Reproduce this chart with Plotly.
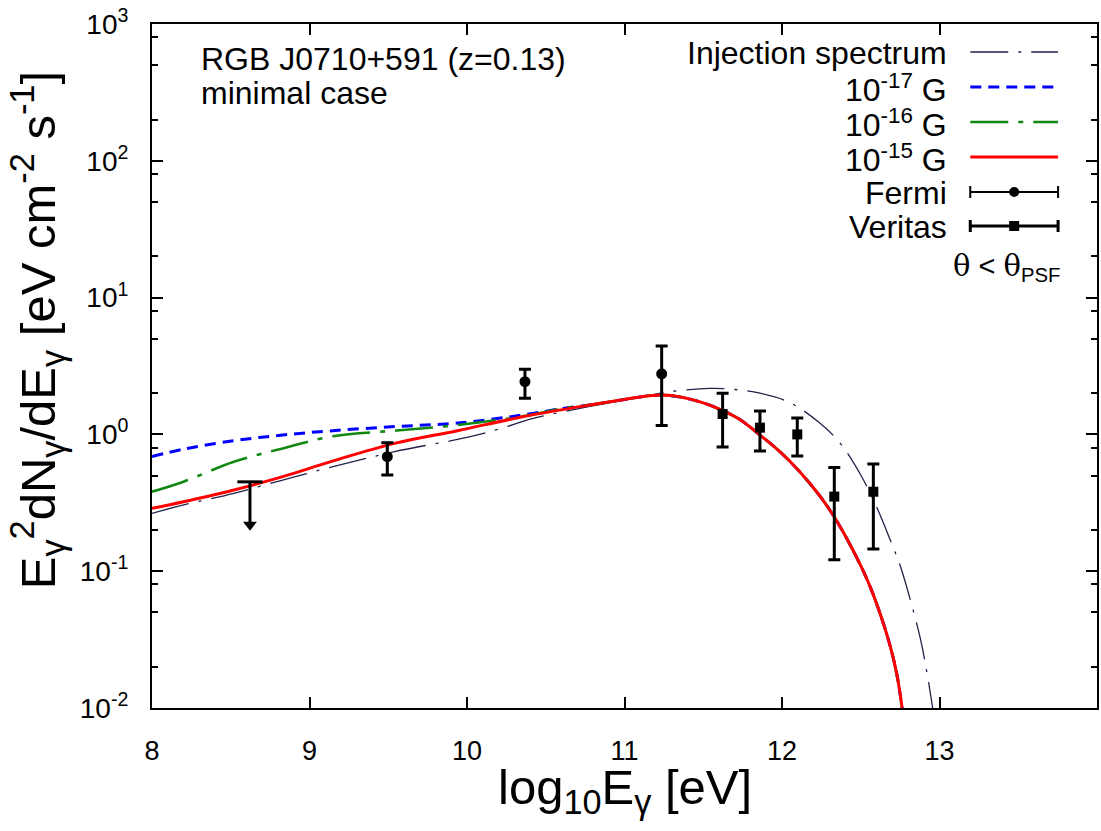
import plotly.graph_objects as go

# ---------------- data ----------------
# Injection spectrum
x_inj = [8.0, 8.2, 8.52, 8.83, 9.15, 9.54, 10.0, 10.21, 10.42, 10.78, 11.0, 11.16,
         11.3, 11.54, 11.7, 11.86, 12.05, 12.24, 12.37, 12.5, 12.6, 12.69, 12.75,
         12.81, 12.88, 12.92, 12.95, 13.0]
y_inj = [0.265, 0.305, 0.371, 0.464, 0.581, 0.748, 0.95, 1.10, 1.31, 1.60, 1.78, 1.93,
         2.06, 2.17, 2.13, 2.00, 1.71, 1.21, 0.86, 0.505, 0.296, 0.166, 0.110,
         0.0646, 0.0316, 0.0182, 0.0112, 0.0045]

# B = 1e-17 G
x_b17 = [8.0, 8.2, 8.52, 8.83, 9.15, 9.54, 9.94, 10.36, 10.61, 10.78, 11.0, 11.16,
         11.28, 11.48, 11.61, 11.73, 11.86, 11.99, 12.11, 12.24, 12.33, 12.43, 12.54,
         12.62, 12.69, 12.73, 12.75, 12.78]
y_b17 = [0.69, 0.78, 0.90, 0.99, 1.065, 1.14, 1.21, 1.39, 1.55, 1.64, 1.80, 1.92,
         1.93, 1.73, 1.52, 1.29, 0.99, 0.741, 0.537, 0.355, 0.251, 0.158, 0.0871,
         0.0501, 0.0275, 0.0174, 0.0126, 0.0071]

# B = 1e-16 G
x_b16 = [8.0, 8.2, 8.52, 8.83, 9.15, 9.54, 9.94, 10.36, 10.61, 10.78, 11.0, 11.16,
         11.28, 11.48, 11.61, 11.73, 11.86, 11.99, 12.11, 12.24, 12.33, 12.43, 12.54,
         12.62, 12.69, 12.73, 12.75, 12.78]
y_b16 = [0.381, 0.451, 0.631, 0.79, 0.97, 1.065, 1.17, 1.36, 1.55, 1.64, 1.80, 1.92,
         1.93, 1.73, 1.52, 1.29, 0.99, 0.741, 0.537, 0.355, 0.251, 0.158, 0.0871,
         0.0501, 0.0275, 0.0174, 0.0126, 0.0071]

# B = 1e-15 G
x_b15 = [8.0, 8.2, 8.52, 8.83, 9.15, 9.54, 9.94, 10.36, 10.78, 11.0, 11.16,
         11.28, 11.48, 11.61, 11.73, 11.86, 11.99, 12.11, 12.24, 12.33, 12.43, 12.54,
         12.62, 12.69, 12.73, 12.75, 12.78]
y_b15 = [0.288, 0.322, 0.392, 0.491, 0.64, 0.86, 1.065, 1.35, 1.64, 1.80, 1.92,
         1.93, 1.73, 1.52, 1.29, 0.99, 0.741, 0.537, 0.355, 0.251, 0.158, 0.0871,
         0.0501, 0.0275, 0.0174, 0.0126, 0.0071]

# Fermi data points
fermi_x = [9.494, 10.368, 11.236]
fermi_y = [0.687, 2.43, 2.77]
fermi_hi = [0.869, 2.99, 4.43]
fermi_lo = [0.505, 1.84, 1.16]

# Fermi upper limit (value and arrow tip)
ul_x = [8.622]
ul_y = [0.45]
ul_tip = [0.195]

# Veritas data points
ver_x = [11.623, 11.860, 12.097, 12.332, 12.580]
ver_y = [1.41, 1.12, 1.00, 0.351, 0.381]
ver_hi = [2.00, 1.48, 1.32, 0.574, 0.608]
ver_lo = [0.81, 0.757, 0.695, 0.121, 0.145]

x_ticks = [8, 9, 10, 11, 12, 13, 14]
y_exps = [-2, -1, 0, 1, 2, 3]

legend_labels = ["Injection spectrum", "10<sup>-17</sup> G", "10<sup>-16</sup> G",
                 "10<sup>-15</sup> G", "Fermi", "Veritas"]

# ---------------- styling ----------------
FONT = "Liberation Sans, Arial, Helvetica, sans-serif"
INJ_COLOR = "#22224a"
BLUE = "#0000ff"
GREEN = "#118811"
RED = "#ff0000"
INJ_DASH = "38px,10px,3px,10px"
BLUE_DASH = "11px,7px"
GREEN_DASH = "38px,10px,5px,10px"

# plot-area pixel geometry
L, R, T, B = 152, 1099, 24, 708
W, H = R - L, B - T


def px(x):
    return (x - L) / W


def py(y):
    return (B - y) / H


fig = go.Figure()

fig.add_trace(go.Scatter(x=x_inj, y=y_inj, mode="lines", line_shape="spline",
                         line=dict(color=INJ_COLOR, width=1.3, dash=INJ_DASH),
                         showlegend=False, hoverinfo="skip"))
fig.add_trace(go.Scatter(x=x_b17, y=y_b17, mode="lines", line_shape="spline",
                         line=dict(color=BLUE, width=3, dash=BLUE_DASH),
                         showlegend=False, hoverinfo="skip"))
fig.add_trace(go.Scatter(x=x_b16, y=y_b16, mode="lines", line_shape="spline",
                         line=dict(color=GREEN, width=2.6, dash=GREEN_DASH),
                         showlegend=False, hoverinfo="skip"))
fig.add_trace(go.Scatter(x=x_b15, y=y_b15, mode="lines", line_shape="spline",
                         line=dict(color=RED, width=3),
                         showlegend=False, hoverinfo="skip"))

# Fermi points
fig.add_trace(go.Scatter(
    x=fermi_x, y=fermi_y, mode="markers",
    marker=dict(symbol="circle", size=11, color="black"),
    error_y=dict(type="data", symmetric=False,
                 array=[h - v for h, v in zip(fermi_hi, fermi_y)],
                 arrayminus=[v - l for l, v in zip(fermi_lo, fermi_y)],
                 color="black", thickness=3, width=6),
    showlegend=False, hoverinfo="skip"))

# Fermi upper limit: bar + shaft + arrow head
head_c = [t * 1.12 for t in ul_tip]
fig.add_trace(go.Scatter(
    x=ul_x, y=ul_y, mode="markers", marker=dict(size=1, color="rgba(0,0,0,0)"),
    error_x=dict(type="constant", value=0.08, color="black", thickness=3, width=0),
    error_y=dict(type="data", symmetric=False, array=[0],
                 arrayminus=[v - c for v, c in zip(ul_y, head_c)],
                 color="black", thickness=3, width=0),
    showlegend=False, hoverinfo="skip"))
fig.add_trace(go.Scatter(
    x=ul_x, y=head_c, mode="markers",
    marker=dict(symbol="triangle-down", size=12, color="black"),
    showlegend=False, hoverinfo="skip"))

# Veritas points
fig.add_trace(go.Scatter(
    x=ver_x, y=ver_y, mode="markers",
    marker=dict(symbol="square", size=10, color="black"),
    error_y=dict(type="data", symmetric=False,
                 array=[h - v for h, v in zip(ver_hi, ver_y)],
                 arrayminus=[v - l for l, v in zip(ver_lo, ver_y)],
                 color="black", thickness=3, width=6),
    showlegend=False, hoverinfo="skip"))

# ---------------- hand-made legend (text left, sample right) ----------------
row_y = [52, 87, 122, 157, 192, 226]
s0, s1 = 972, 1060
line_styles = [(INJ_COLOR, 1.3, INJ_DASH), (BLUE, 3, BLUE_DASH),
               (GREEN, 2.6, GREEN_DASH), (RED, 3, "solid")]
for i, (c, w, d) in enumerate(line_styles):
    fig.add_trace(go.Scatter(x=[s0, s1], y=[row_y[i], row_y[i]], mode="lines",
                             line=dict(color=c, width=w, dash=d),
                             xaxis="x2", yaxis="y2", showlegend=False, hoverinfo="skip"))
for i, (sym, sz, th) in zip([4, 5], [("circle", 10, 2), ("square", 10, 3)]):
    fig.add_trace(go.Scatter(x=[(s0 + s1) / 2], y=[row_y[i]], mode="markers",
                             marker=dict(symbol=sym, size=sz, color="black"),
                             error_x=dict(type="constant", value=(s1 - s0) / 2,
                                          color="black", thickness=th, width=6),
                             xaxis="x2", yaxis="y2", showlegend=False, hoverinfo="skip"))

annotations = []
for lab, yy in zip(legend_labels, row_y):
    annotations.append(dict(text=lab, x=px(951), y=py(yy + 1), xref="paper", yref="paper",
                            xanchor="right", yanchor="middle", showarrow=False,
                            font=dict(family=FONT, size=32, color="black")))
annotations.append(dict(
    text="<span style=\"font-family:'DejaVu Serif',serif\">θ</span> &lt; "
         "<span style=\"font-family:'DejaVu Serif',serif\">θ</span><sub>PSF</sub>",
    x=px(1008), y=py(267), xref="paper", yref="paper", xanchor="center", yanchor="middle",
    showarrow=False, font=dict(family=FONT, size=29, color="black")))
annotations.append(dict(text="RGB J0710+591 (z=0.13)", x=px(199), y=py(59),
                        xref="paper", yref="paper", xanchor="left", yanchor="middle",
                        showarrow=False, font=dict(family=FONT, size=32, color="black")))
annotations.append(dict(text="minimal case", x=px(199), y=py(93),
                        xref="paper", yref="paper", xanchor="left", yanchor="middle",
                        showarrow=False, font=dict(family=FONT, size=32, color="black")))
# axis titles
annotations.append(dict(text="log<sub>10</sub>E<sub>γ</sub> [eV]", x=px(626), y=py(790),
                        xref="paper", yref="paper", xanchor="center", yanchor="middle",
                        showarrow=False, font=dict(family=FONT, size=49, color="black")))
annotations.append(dict(
    text="E<sub>γ</sub><sup>2</sup>dN<sub>γ</sub>/dE<sub>γ</sub> [eV cm<sup>-2</sup> s<sup>-1</sup>]",
    x=px(38), y=py(330), xref="paper", yref="paper", xanchor="center", yanchor="middle",
    textangle=-90, showarrow=False, font=dict(family=FONT, size=49, color="black")))

minor_vals = []
for e in range(-2, 3):
    for m in (2, 5, 8):
        minor_vals.append(m * 10 ** e)

fig.update_layout(
    width=1101, height=831,
    margin=dict(l=L, r=1101 - R, t=T, b=831 - B),
    paper_bgcolor="white", plot_bgcolor="white",
    font=dict(family=FONT, color="black"),
    showlegend=False,
    annotations=annotations,
    xaxis=dict(range=[8, 14], tickvals=x_ticks, ticktext=[str(v) for v in x_ticks],
               ticks="inside", ticklen=11, tickwidth=2, tickcolor="black",
               showline=True, linewidth=2, linecolor="black", mirror="ticks",
               showgrid=False, zeroline=False, ticklabelstandoff=18,
               tickfont=dict(family=FONT, size=27, color="black")),
    yaxis=dict(type="log", range=[-2, 3], tickvals=[10 ** e for e in y_exps],
               ticktext=[f"10<sup>{e}</sup>" for e in y_exps],
               ticks="inside", ticklen=11, tickwidth=2, tickcolor="black",
               minor=dict(tickvals=minor_vals, ticks="inside", ticklen=6, tickwidth=1.5,
                          tickcolor="black", showgrid=False),
               showline=True, linewidth=2, linecolor="black", mirror="ticks",
               showgrid=False, zeroline=False, ticklabelstandoff=16,
               tickfont=dict(family=FONT, size=28, color="black")),
    xaxis2=dict(range=[L, R], overlaying="x", anchor="y2", visible=False, fixedrange=True),
    yaxis2=dict(range=[B, T], overlaying="y", anchor="x2", visible=False, fixedrange=True),
)

fig.write_html("out.html")
